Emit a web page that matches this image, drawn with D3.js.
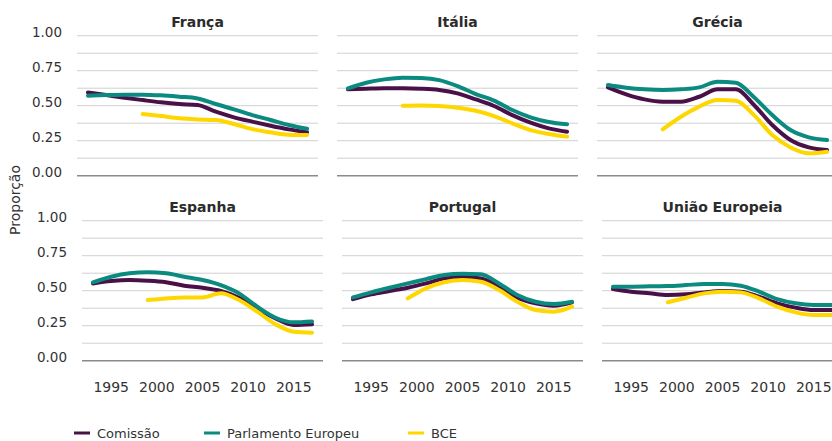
<!DOCTYPE html>
<html>
<head>
<meta charset="utf-8">
<script src="https://cdn.jsdelivr.net/npm/d3@7"></script>
<style>
  body { margin: 0; background: #fff; font-family: "DejaVu Sans", sans-serif; }
  svg text { fill: #333; }
</style>
</head>
<body>
<script>
// years (every second year)
var years    = [1993, 1995, 1997, 1999, 2001, 2003, 2005, 2007, 2009, 2011, 2013, 2015, 2017];
var yearsBCE = [1999, 2001, 2003, 2005, 2007, 2009, 2011, 2013, 2015, 2017];

var francaComissao = [0.595, 0.576, 0.557, 0.540, 0.524, 0.512, 0.505, 0.457, 0.417, 0.386, 0.357, 0.331, 0.310];
var francaPE       = [0.571, 0.576, 0.579, 0.579, 0.574, 0.564, 0.552, 0.512, 0.474, 0.433, 0.398, 0.362, 0.335];
var francaBCE      = [0.440, 0.426, 0.410, 0.402, 0.398, 0.369, 0.333, 0.310, 0.293, 0.290];

var italiaComissao = [0.617, 0.621, 0.624, 0.624, 0.621, 0.612, 0.588, 0.545, 0.498, 0.433, 0.379, 0.338, 0.314];
var italiaPE       = [0.624, 0.664, 0.688, 0.700, 0.698, 0.683, 0.640, 0.583, 0.536, 0.469, 0.417, 0.383, 0.367];
var italiaBCE      = [0.500, 0.502, 0.498, 0.486, 0.464, 0.426, 0.374, 0.326, 0.298, 0.279];

var greciaComissao = [0.631, 0.581, 0.545, 0.529, 0.529, 0.564, 0.617, 0.617, 0.505, 0.362, 0.255, 0.202, 0.183];
var greciaPE       = [0.648, 0.629, 0.617, 0.612, 0.617, 0.631, 0.671, 0.664, 0.560, 0.433, 0.326, 0.274, 0.255];
var greciaBCE      = [0.331, 0.421, 0.493, 0.540, 0.536, 0.433, 0.290, 0.202, 0.160, 0.171];

var espanhaComissao = [0.552, 0.569, 0.576, 0.571, 0.560, 0.536, 0.521, 0.498, 0.450, 0.374, 0.302, 0.255, 0.260];
var espanhaPE       = [0.560, 0.600, 0.624, 0.631, 0.624, 0.600, 0.576, 0.540, 0.481, 0.386, 0.307, 0.274, 0.280];
var espanhaBCE      = [0.433, 0.445, 0.452, 0.452, 0.481, 0.433, 0.350, 0.260, 0.207, 0.200];

var portugalComissao = [0.440, 0.474, 0.498, 0.521, 0.552, 0.588, 0.600, 0.588, 0.529, 0.450, 0.410, 0.393, 0.417];
var portugalPE       = [0.452, 0.488, 0.521, 0.552, 0.583, 0.612, 0.621, 0.617, 0.552, 0.469, 0.421, 0.405, 0.421];
var portugalBCE      = [0.445, 0.517, 0.560, 0.576, 0.564, 0.505, 0.421, 0.362, 0.350, 0.386];

var ueComissao = [0.512, 0.493, 0.481, 0.469, 0.474, 0.488, 0.498, 0.493, 0.457, 0.410, 0.379, 0.362, 0.362];
var uePE       = [0.529, 0.529, 0.531, 0.533, 0.540, 0.548, 0.548, 0.536, 0.493, 0.440, 0.410, 0.398, 0.398];
var ueBCE      = [0.417, 0.450, 0.481, 0.493, 0.488, 0.445, 0.386, 0.345, 0.326, 0.326];

var panelTitles = ["França", "Itália", "Grécia", "Espanha", "Portugal", "União Europeia"];
var seriesNames = ["Comissão", "Parlamento Europeu", "BCE"];
var yTicks = [0, 0.25, 0.5, 0.75, 1];
var xTicks = [1995, 2000, 2005, 2010, 2015];

var colors = { "Comissão": "#4a1148", "Parlamento Europeu": "#0b8b80", "BCE": "#ffd700" };

function pack(c, p, b) {
  return [
    { name: "Comissão", pts: years.map(function (y, i) { return [y, c[i]]; }) },
    { name: "Parlamento Europeu", pts: years.map(function (y, i) { return [y, p[i]]; }) },
    { name: "BCE", pts: yearsBCE.map(function (y, i) { return [y, b[i]]; }) }
  ];
}
var panelData = [
  pack(francaComissao, francaPE, francaBCE),
  pack(italiaComissao, italiaPE, italiaBCE),
  pack(greciaComissao, greciaPE, greciaBCE),
  pack(espanhaComissao, espanhaPE, espanhaBCE),
  pack(portugalComissao, portugalPE, portugalBCE),
  pack(ueComissao, uePE, ueBCE)
];

var width = 832, height = 441;
var svg = d3.select("body").append("svg").attr("width", width).attr("height", height);

// panel placement (rows are slightly offset in the original)
var rowTop = [35.7, 220.7], panelH = 140, panelW = 241;
var colLeft = [[77, 337, 597], [82, 342, 602]];

var x = d3.scaleLinear().domain([1991.8, 2018.2]).range([0, panelW]);
var y = d3.scaleLinear().domain([0, 1]).range([panelH, 0]);
var gridVals = d3.range(0, 1.0001, 0.125);

var line = d3.line()
  .x(function (d) { return x(d[0]); })
  .y(function (d) { return y(d[1]); })
  .curve(d3.curveMonotoneX);

panelData.forEach(function (series, k) {
  var row = Math.floor(k / 3), col = k % 3;
  var g = svg.append("g")
    .attr("transform", "translate(" + colLeft[row][col] + "," + rowTop[row] + ")");

  g.selectAll(".grid").data(gridVals).enter().append("line")
    .attr("x1", 0).attr("x2", panelW)
    .attr("y1", function (d) { return y(d); }).attr("y2", function (d) { return y(d); })
    .attr("stroke", function (d) { return d === 0 ? "#8a8a8a" : "#d0d0d0"; })
    .attr("stroke-width", function (d) { return d === 0 ? 1.6 : 1; });

  g.append("text")
    .attr("x", panelW / 2).attr("y", -9)
    .attr("text-anchor", "middle")
    .style("font-size", "14px").style("font-weight", "bold")
    .style("fill", "#2b2b2b")
    .text(panelTitles[k]);

  if (col === 0) {
    g.selectAll(".yt").data(yTicks).enter().append("text")
      .attr("x", -15).attr("y", function (d) { return y(d) + 1; })
      .attr("text-anchor", "end")
      .style("font-size", "13.5px")
      .text(function (d) { return d.toFixed(2); });
  }

  if (row === 1) {
    g.selectAll(".xt").data(xTicks).enter().append("text")
      .attr("x", function (d) { return x(d); }).attr("y", panelH + 31)
      .attr("text-anchor", "middle")
      .style("font-size", "14px")
      .text(function (d) { return d; });
  }

  g.selectAll(".series").data(series).enter().append("path")
    .attr("d", function (d) { return line(d.pts); })
    .attr("fill", "none")
    .attr("stroke", function (d) { return colors[d.name]; })
    .attr("stroke-width", 4)
    .attr("stroke-linecap", "round");
});

// y axis title
svg.append("text")
  .attr("transform", "translate(20,200) rotate(-90)")
  .attr("text-anchor", "middle")
  .style("font-size", "14px")
  .text("Proporção");

// legend
var legendX = [74, 204, 408];
var lg = svg.selectAll(".legend").data(seriesNames).enter().append("g")
  .attr("transform", function (d, i) { return "translate(" + legendX[i] + ",433)"; });
lg.append("line")
  .attr("x1", 0).attr("x2", 16).attr("y1", 0).attr("y2", 0)
  .attr("stroke", function (d) { return colors[d]; })
  .attr("stroke-width", 3);
lg.append("text")
  .attr("x", 23).attr("y", 5)
  .style("font-size", "13px")
  .text(function (d) { return d; });
</script>
</body>
</html>
